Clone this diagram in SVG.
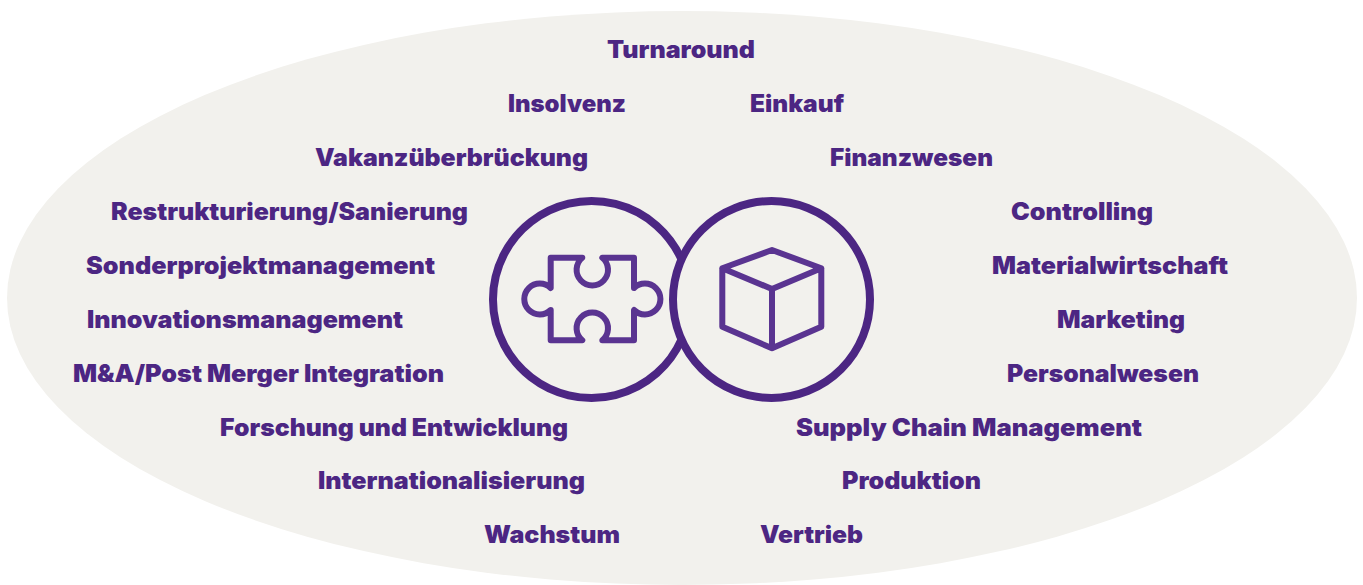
<svg xmlns="http://www.w3.org/2000/svg" width="1363" height="585" viewBox="0 0 1363 585">
<style>
text{font-family:"Inter","Liberation Sans",sans-serif;font-weight:900;font-size:24px;fill:#4c2683}
.ic{fill:none;stroke:#5a3491;stroke-width:6;stroke-linejoin:round;stroke-linecap:round}
.ring{fill:none;stroke:#4c2683;stroke-width:8}
</style>
<rect width="1363" height="585" fill="#fff"/>
<ellipse cx="682" cy="298" rx="675" ry="287" fill="#f2f1ed"/>
<g id="labels">
<text x="607" y="58" textLength="148" lengthAdjust="spacingAndGlyphs">Turnaround</text>
<text x="508" y="112" textLength="118" lengthAdjust="spacingAndGlyphs">Insolvenz</text>
<text x="750" y="112" textLength="94" lengthAdjust="spacingAndGlyphs">Einkauf</text>
<text x="315" y="166" textLength="273" lengthAdjust="spacingAndGlyphs">Vakanzüberbrückung</text>
<text x="830" y="166" textLength="163" lengthAdjust="spacingAndGlyphs">Finanzwesen</text>
<text x="111" y="220" textLength="357" lengthAdjust="spacingAndGlyphs">Restrukturierung/Sanierung</text>
<text x="1011" y="220" textLength="142" lengthAdjust="spacingAndGlyphs">Controlling</text>
<text x="86" y="274" textLength="349" lengthAdjust="spacingAndGlyphs">Sonderprojektmanagement</text>
<text x="992" y="274" textLength="236" lengthAdjust="spacingAndGlyphs">Materialwirtschaft</text>
<text x="87" y="328" textLength="316" lengthAdjust="spacingAndGlyphs">Innovationsmanagement</text>
<text x="1057" y="328" textLength="128" lengthAdjust="spacingAndGlyphs">Marketing</text>
<text x="73" y="382" textLength="371" lengthAdjust="spacingAndGlyphs">M&amp;A/Post Merger Integration</text>
<text x="1007" y="382" textLength="192" lengthAdjust="spacingAndGlyphs">Personalwesen</text>
<text x="220" y="436" textLength="348" lengthAdjust="spacingAndGlyphs">Forschung und Entwicklung</text>
<text x="796" y="436" textLength="346" lengthAdjust="spacingAndGlyphs">Supply Chain Management</text>
<text x="318" y="489" textLength="267" lengthAdjust="spacingAndGlyphs">Internationalisierung</text>
<text x="842" y="489" textLength="139" lengthAdjust="spacingAndGlyphs">Produktion</text>
<text x="484" y="543" textLength="136" lengthAdjust="spacingAndGlyphs">Wachstum</text>
<text x="760" y="543" textLength="103" lengthAdjust="spacingAndGlyphs">Vertrieb</text>
</g>
<g id="puzzle">
<path class="ring" d="M681.5 259.5A98.5 98.5 0 1 0 681.5 339.5"/>
<path class="ic" d="M550.7 257.7H582.3A15.7 15.7 0 1 0 602.3 257.7H634V288A15.5 15.5 0 1 1 634 310V340.3H602.3A15.7 15.7 0 1 0 582.3 340.3H550.7V310A15.5 15.5 0 1 1 550.7 288Z"/>
</g>
<g id="box">
<circle class="ring" cx="771.5" cy="299.5" r="98.5"/>
<path class="ic" d="M772 250L821.3 268.3V326.7L772 348.3L722.3 326.7V268.3ZM722.3 268.3L772 289L821.3 268.3M772 289V348.3"/>
</g>
</svg>
